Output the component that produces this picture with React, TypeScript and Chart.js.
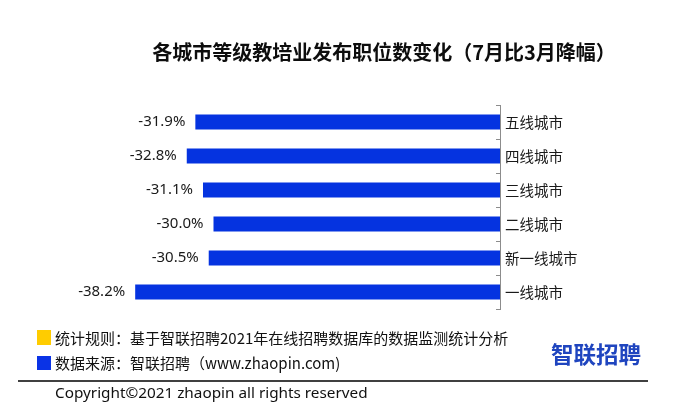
import React, { useEffect, useRef } from "react";
import { Chart, registerables } from "chart.js";

Chart.register(...registerables);

const categories = ["五线城市", "四线城市", "三线城市", "二线城市", "新一线城市", "一线城市"];
const declines = [-31.9, -32.8, -31.1, -30.0, -30.5, -38.2];
const titleText = "各城市等级教培业发布职位数变化（7月比3月降幅）";
const ruleText = "统计规则：基于智联招聘2021年在线招聘数据库的数据监测统计分析";
const sourceText = "数据来源：智联招聘（www.zhaopin.com)";
const copyrightText = "Copyright©2021 zhaopin all rights reserved";
const logoText = "智联招聘";

const CJK = '"Noto Sans CJK SC", "Noto Sans", sans-serif';

const decorPlugin = {
  id: "decor",
  afterDatasetsDraw(chart: any) {
    const ctx = chart.ctx;
    const area = chart.chartArea;
    ctx.save();
    // inward tick marks on the category axis
    ctx.strokeStyle = "#8c8c8c";
    ctx.lineWidth = 1;
    const n = categories.length;
    for (let i = 0; i <= n; i++) {
      const y = Math.round(area.top + (i * (area.bottom - area.top)) / n) + 0.5;
      ctx.beginPath();
      ctx.moveTo(area.right - 4, y);
      ctx.lineTo(area.right, y);
      ctx.stroke();
    }
    // value labels
    const meta = chart.getDatasetMeta(0);
    ctx.fillStyle = "#1a1a1a";
    ctx.font = '15px "Noto Sans", sans-serif';
    ctx.textAlign = "right";
    ctx.textBaseline = "middle";
    meta.data.forEach((bar: any, i: number) => {
      ctx.fillText(declines[i].toFixed(1) + "%", bar.x - 10, bar.y);
    });
    ctx.restore();
  },
  afterDraw(chart: any) {
    const ctx = chart.ctx;
    ctx.save();
    ctx.textBaseline = "middle";
    // title
    ctx.fillStyle = "#0d0d0d";
    ctx.font = "bold 20px " + CJK;
    ctx.textAlign = "center";
    ctx.fillText(titleText, 384, 52);
    // footer notes
    ctx.textAlign = "left";
    ctx.fillStyle = "#ffcc00";
    ctx.fillRect(37, 330, 14, 15);
    ctx.fillStyle = "#0a33e6";
    ctx.fillRect(37, 356, 14, 14);
    ctx.fillStyle = "#111111";
    ctx.font = "15px " + CJK;
    ctx.fillText(ruleText, 55, 338);
    ctx.fillText(sourceText, 55, 363);
    // rule line
    ctx.strokeStyle = "#000000";
    ctx.lineWidth = 1.5;
    ctx.beginPath();
    ctx.moveTo(18, 381);
    ctx.lineTo(648, 381);
    ctx.stroke();
    // copyright
    ctx.font = '15.3px "Noto Sans", sans-serif';
    ctx.fillText(copyrightText, 55, 394);
    // logo
    ctx.fillStyle = "#1f45bf";
    ctx.font = "bold 22.5px " + CJK;
    ctx.fillText(logoText, 551, 354);
    ctx.restore();
  },
};

export default function App() {
  const canvasRef = useRef<HTMLCanvasElement | null>(null);

  useEffect(() => {
    if (!canvasRef.current) return;
    const chart = new Chart(canvasRef.current, {
      type: "bar",
      data: {
        labels: categories,
        datasets: [
          {
            data: declines,
            backgroundColor: "#0533e0",
            borderWidth: 0,
            barPercentage: 0.44,
            categoryPercentage: 1,
          },
        ],
      },
      options: {
        indexAxis: "y",
        responsive: false,
        animation: false,
        layout: { padding: { left: 118, right: 0, top: 105, bottom: 108 } },
        plugins: {
          legend: { display: false },
          tooltip: { enabled: false },
          title: { display: false },
        },
        scales: {
          x: {
            display: false,
            min: -40,
            max: 0,
          },
          y: {
            position: "right",
            grid: { display: false, drawTicks: false },
            border: { display: true, color: "#8c8c8c", width: 1 },
            ticks: {
              padding: 5,
              color: "#1a1a1a",
              font: { family: CJK, size: 14.5 },
            },
            afterFit(scale: any) {
              scale.width = 192;
            },
          },
        },
      },
      plugins: [decorPlugin],
    });
    return () => chart.destroy();
  }, []);

  return (
    <div style={{ position: "fixed", left: 0, top: 0, width: 692, height: 417, background: "#ffffff" }}>
      <canvas ref={canvasRef} width={692} height={417} style={{ display: "block" }} />
    </div>
  );
}
